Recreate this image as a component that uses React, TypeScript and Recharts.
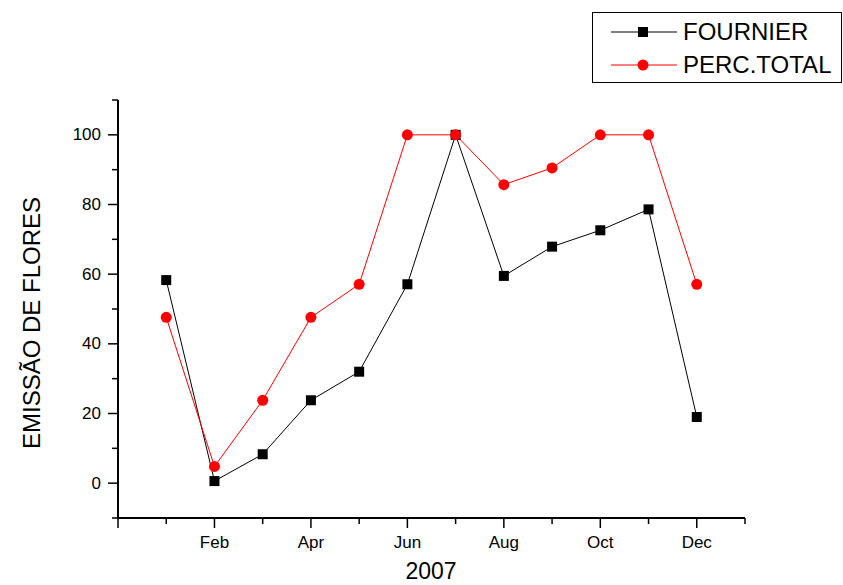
import { LineChart, Line, XAxis, YAxis } from 'recharts';

const months = ['Jan', 'Feb', 'Mar', 'Apr', 'May', 'Jun', 'Jul', 'Aug', 'Sep', 'Oct', 'Nov', 'Dec'];
const fournier = [58.3, 0.6, 8.3, 23.8, 32, 57.1, 100, 59.5, 67.9, 72.6, 78.6, 19];
const percTotal = [47.6, 4.8, 23.8, 47.6, 57.1, 100, 100, 85.7, 90.5, 100, 100, 57.1];
const xTicks = [0, 1, 2, 3, 4, 5, 6, 7, 8, 9, 10, 11, 12, 13];
const yTicks = [-10, 0, 10, 20, 30, 40, 50, 60, 70, 80, 90, 100, 110];

const data = months.map((m, i) => ({ m: i + 1, label: m, fournier: fournier[i], perc: percTotal[i] }));

const font = '"Liberation Sans", Arial, sans-serif';

const YTick = (props: any) => {
  const { x, y, payload } = props;
  const v = payload.value;
  const major = v >= 0 && v <= 100 && v % 20 === 0;
  return (
    <g>
      <line x1={x} x2={x - (major ? 10 : 6)} y1={y} y2={y} stroke="#000" strokeWidth={1.5} />
      {major && (
        <text x={x - 17} y={y} textAnchor="end" dominantBaseline="central" fontSize={17} fontFamily={font} fill="#000">
          {v}
        </text>
      )}
    </g>
  );
};

const XTick = (props: any) => {
  const { x, y, payload } = props;
  const v = payload.value;
  const major = v % 2 === 0 && v < 13;
  const label = v >= 1 && v <= 12 && v % 2 === 0 ? months[v - 1] : '';
  return (
    <g>
      <line x1={x} x2={x} y1={y} y2={y + (major ? 10 : 6)} stroke="#000" strokeWidth={1.5} />
      {label && (
        <text x={x} y={y + 24} textAnchor="middle" dominantBaseline="central" fontSize={17} fontFamily={font} fill="#000">
          {label}
        </text>
      )}
    </g>
  );
};

const Square = (props: any) => {
  const { cx, cy } = props;
  if (cx == null || cy == null) return null;
  return <rect x={cx - 5} y={cy - 5} width={10} height={10} fill="#000" />;
};

const Circle = (props: any) => {
  const { cx, cy } = props;
  if (cx == null || cy == null) return null;
  return <circle cx={cx} cy={cy} r={5.5} fill="#ff0000" />;
};

export default function App() {
  return (
    <div style={{ position: 'absolute', left: 0, top: 0, width: 843, height: 585, background: '#fff', fontFamily: font }}>
      <LineChart width={843} height={585} data={data} margin={{ top: 100, right: 98, bottom: 27, left: 58 }}>
        <XAxis
          dataKey="m"
          type="number"
          domain={[0, 13]}
          ticks={xTicks}
          interval={0}
          height={40}
          tickSize={0}
          tickMargin={0}
          tick={<XTick />}
          axisLine={{ stroke: '#000', strokeWidth: 2 }}
        />
        <YAxis
          type="number"
          domain={[-10, 110]}
          ticks={yTicks}
          interval={0}
          width={60}
          tickSize={0}
          tickMargin={0}
          tick={<YTick />}
          axisLine={{ stroke: '#000', strokeWidth: 2 }}
        />
        <Line dataKey="fournier" stroke="#000" strokeWidth={1} dot={<Square />} isAnimationActive={false} />
        <Line dataKey="perc" stroke="#ff0000" strokeWidth={1} dot={<Circle />} isAnimationActive={false} />
      </LineChart>

      <div
        style={{
          position: 'absolute', left: 0, top: 0, width: 64, height: 585,
          display: 'flex', alignItems: 'center', justifyContent: 'center',
        }}
      >
        <div style={{ transform: 'rotate(-90deg)', whiteSpace: 'nowrap', fontSize: 24, marginTop: 60 }}>EMISSÃO DE FLORES</div>
      </div>
      <div style={{ position: 'absolute', left: 381, width: 100, top: 558, height: 26, lineHeight: '26px', textAlign: 'center', fontSize: 23 }}>2007</div>

      <div
        style={{
          position: 'absolute', left: 592, top: 12, width: 250, height: 71,
          border: '1px solid #000', boxSizing: 'border-box', fontSize: 24,
        }}
      >
        {[
          { name: 'FOURNIER', color: '#000', square: true },
          { name: 'PERC.TOTAL', color: '#ff0000', square: false },
        ].map((it, i) => (
          <div key={it.name} style={{ position: 'absolute', left: 18, top: 5 + i * 33, height: 28, display: 'flex', alignItems: 'center' }}>
            <svg width={66} height={14}>
              <line x1={0} x2={66} y1={7} y2={7} stroke={it.color} strokeWidth={1} />
              {it.square ? <rect x={27} y={2} width={10} height={10} fill="#000" /> : <circle cx={32} cy={7} r={5.5} fill={it.color} />}
            </svg>
            <span style={{ marginLeft: 6, color: '#000', lineHeight: '28px' }}>{it.name}</span>
          </div>
        ))}
      </div>
    </div>
  );
}
